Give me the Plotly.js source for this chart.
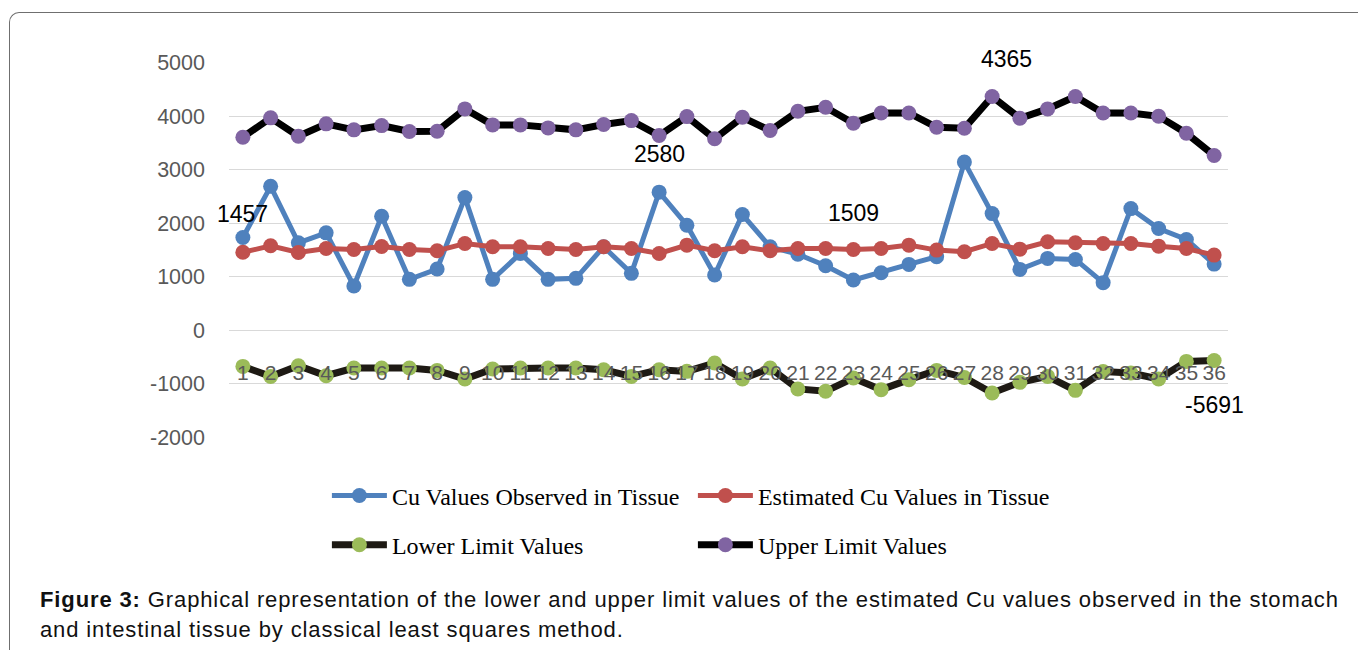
<!DOCTYPE html>
<html>
<head>
<meta charset="utf-8">
<script src="https://cdn.plot.ly/plotly-3.0.1.min.js"></script>
<style>
  html, body { margin: 0; padding: 0; background: #ffffff; }
  #wrap { position: relative; width: 1358px; height: 650px; overflow: hidden; }
  #frame { position: absolute; left: 9px; top: 12px; width: 1400px; height: 700px;
           border-left: 1.5px solid #6f6f6f; border-top: 1.5px solid #6f6f6f; border-top-left-radius: 10px; }
  #chart { position: absolute; left: 0; top: 0; width: 1358px; height: 650px; }
  #caption { position: absolute; left: 40px; top: 585px; font-family: "Liberation Sans", Arial, sans-serif;
             font-size: 22px; letter-spacing: 0.88px; line-height: 30px; color: #111; white-space: nowrap; }
</style>
</head>
<body>
<div id="wrap">
  <div id="frame"></div>
  <div id="chart"></div>
  <div id="caption"><b>Figure 3:</b> Graphical representation of the lower and upper limit values of the estimated Cu values observed in the stomach<br>and intestinal tissue by classical least squares method.</div>
</div>
<script>
const categories = [1,2,3,4,5,6,7,8,9,10,11,12,13,14,15,16,17,18,19,20,21,22,23,24,25,26,27,28,29,30,31,32,33,34,35,36];
const tickLabels = categories.map(String);

const observed = [1734,2688,1634,1820,828,2130,952,1144,2478,952,1436,952,971,1560,1064,2580,1963,1033,2162,1560,
                  1420,1206,940,1076,1231,1374,3141,2180,1138,1343,1324,890,2273,1901,1696,1237];
const estimated = [1457,1578,1455,1529,1510,1565,1510,1485,1622,1560,1560,1529,1510,1560,1529,1436,1591,1485,1560,1485,
                   1529,1529,1509,1529,1591,1498,1467,1622,1516,1653,1635,1622,1622,1572,1529,1405];
const lower = [-673,-860,-660,-847,-704,-704,-704,-748,-908,-722,-704,-704,-704,-735,-860,-735,-766,-611,-908,-704,
               -1094,-1138,-890,-1107,-921,-748,-880,-1169,-971,-860,-1120,-770,-797,-908,-580,-562];
const upper = [3606,3967,3624,3855,3743,3823,3712,3717,4134,3836,3836,3780,3743,3842,3916,3637,3991,3576,3978,3730,
               4090,4164,3866,4059,4059,3792,3773,4365,3960,4134,4365,4059,4059,3997,3681,3265];

const seriesNames = ["Cu Values Observed in Tissue", "Estimated Cu Values in Tissue", "Lower Limit Values", "Upper Limit Values"];

// free-floating data labels from the original chart
const labelTexts = ["1457", "2580", "1509", "4365", "-5691"];
const labelCats  = [1, 16, 23, 28.5, 36];
const labelVals  = [2170, 3284, 2186, 5000, -1386];

const tickFont = {family: "Liberation Sans, Arial, sans-serif", size: 21.5, color: "#595959"};
const xTickFont = {family: "Liberation Sans, Arial, sans-serif", size: 21, color: "#595959"};
const legFont = {family: "Liberation Serif, Times New Roman, serif", size: 24, color: "#000000"};

function tr(y, name, lineColor, lineW, markColor, legend) {
  return {
    x: categories, y: y, name: name, type: "scatter", mode: "lines+markers",
    line: {color: lineColor, width: lineW},
    marker: {color: markColor, size: 15},
    legend: legend, hoverinfo: "x+y"
  };
}

const data = [
  tr(observed, seriesNames[0], "#4f81bd", 5, "#4f81bd", "legend"),
  tr(estimated, seriesNames[1], "#c0504d", 5, "#c0504d", "legend"),
  tr(lower, seriesNames[2], "#1e1a14", 7, "#9bbb59", "legend2"),
  tr(upper, seriesNames[3], "#000000", 7, "#8064a2", "legend2")
];

const annotations = labelTexts.map((t, i) => ({
  x: labelCats[i], y: labelVals[i], xref: "x", yref: "y", text: t, showarrow: false,
  yshift: (t === "4365") ? 4 : 0,
  font: {family: "Liberation Sans, Arial, sans-serif", size: 23, color: "#000"}
}));

const layout = {
  width: 1358, height: 650,
  margin: {l: 229, r: 130, t: 62, b: 212},
  paper_bgcolor: "rgba(0,0,0,0)", plot_bgcolor: "rgba(0,0,0,0)",
  showlegend: true,
  xaxis: {
    range: [0.5, 36.5], tickmode: "array", tickvals: categories, ticktext: tickLabels,
    showgrid: false, zeroline: false, showline: false, ticks: "",
    anchor: "free", position: 0.212, tickfont: xTickFont, layer: "above traces", fixedrange: true
  },
  yaxis: {
    range: [-2010, 5010], tickmode: "array", tickvals: [-2000,-1000,0,1000,2000,3000,4000,5000],
    ticktext: ["-2000","-1000","0","1000","2000","3000","4000","5000"],
    showgrid: true, gridcolor: "#d9d9d9", gridwidth: 1, zeroline: false, showline: false, ticks: "",
    tickfont: tickFont, ticklabelstandoff: 23, fixedrange: true
  },
  legend: {
    orientation: "h", x: 0.098, xanchor: "left", y: -0.154, yanchor: "middle",
    font: legFont, entrywidth: 296, entrywidthmode: "pixels", bgcolor: "rgba(0,0,0,0)", itemwidth: 55
  },
  legend2: {
    orientation: "h", x: 0.098, xanchor: "left", y: -0.285, yanchor: "middle",
    font: legFont, entrywidth: 296, entrywidthmode: "pixels", bgcolor: "rgba(0,0,0,0)", itemwidth: 55
  },
  annotations: annotations
};

Plotly.newPlot("chart", data, layout, {staticPlot: true, displayModeBar: false});
</script>
</body>
</html>
